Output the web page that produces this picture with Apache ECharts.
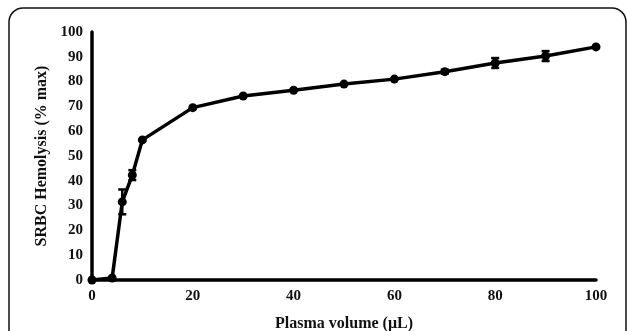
<!DOCTYPE html>
<html>
<head>
<meta charset="utf-8">
<script src="https://cdn.jsdelivr.net/npm/echarts@6/dist/echarts.min.js"></script>
<style>html,body{margin:0;padding:0;background:#fff}#c{width:627px;height:331px}</style>
</head>
<body>
<div id="c"></div>
<script>
var volumes = [0, 4, 6, 8, 10, 20, 30, 40, 50, 60, 70, 80, 90, 100];
var hemolysis = [0, 0.8, 31.5, 42.3, 56.5, 69.5, 74.2, 76.5, 79, 81, 84, 87.5, 90.3, 94];
var errors = [0, 0, 5, 2, 0, 0, 0, 0, 0, 0, 0.8, 2, 2, 0];
var yTicks = [0, 10, 20, 30, 40, 50, 60, 70, 80, 90, 100];
var xTicks = [0, 20, 40, 60, 80, 100];

var font = '"Liberation Serif", "Times New Roman", serif';
var lineData = volumes.map(function (v, i) { return [v, hemolysis[i]]; });
var errData = volumes.map(function (v, i) { return [v, hemolysis[i] - errors[i], hemolysis[i] + errors[i]]; })
  .filter(function (d) { return d[2] - d[1] > 0; });

var chart = echarts.init(document.getElementById('c'));
chart.setOption({
  animation: false,
  backgroundColor: '#fff',
  graphic: [{
    type: 'rect',
    shape: { x: 9, y: 8, width: 617, height: 420, r: 14 },
    style: { fill: 'none', stroke: '#111', lineWidth: 1.5 },
    silent: true
  }],
  grid: { left: 92, right: 31, top: 32, bottom: 51, containLabel: false, outerBoundsMode: 'none' },
  xAxis: {
    type: 'value', min: xTicks[0], max: xTicks[xTicks.length - 1], interval: 20,
    name: 'Plasma volume (\u03bcL)', nameLocation: 'middle', nameGap: 36,
    nameTextStyle: { fontFamily: font, fontWeight: 'bold', fontSize: 16, color: '#111' },
    axisLine: { lineStyle: { color: '#000', width: 3.5 } },
    axisTick: { show: false },
    splitLine: { show: false },
    axisLabel: { fontFamily: font, fontWeight: 'bold', fontSize: 15, color: '#111', margin: 9 }
  },
  yAxis: {
    type: 'value', min: yTicks[0], max: yTicks[yTicks.length - 1], interval: 10,
    name: 'SRBC Hemolysis (% max)', nameLocation: 'middle', nameGap: 42,
    nameTextStyle: { fontFamily: font, fontWeight: 'bold', fontSize: 16, color: '#111' },
    axisLine: { show: true, lineStyle: { color: '#000', width: 3.5 } },
    axisTick: { show: false },
    splitLine: { show: false },
    axisLabel: { fontFamily: font, fontWeight: 'bold', fontSize: 15, color: '#111', margin: 9 }
  },
  series: [{
    type: 'line',
    data: lineData,
    symbol: 'circle',
    symbolSize: 9,
    lineStyle: { color: '#000', width: 3.5 },
    itemStyle: { color: '#000' },
    z: 3
  }, {
    type: 'custom',
    data: errData,
    z: 4,
    renderItem: function (params, api) {
      var x = api.value(0);
      var lo = api.coord([x, api.value(1)]);
      var hi = api.coord([x, api.value(2)]);
      var w = 4;
      var st = { stroke: '#000', lineWidth: 2.5 };
      return {
        type: 'group',
        children: [
          { type: 'line', shape: { x1: lo[0], y1: lo[1], x2: hi[0], y2: hi[1] }, style: st },
          { type: 'line', shape: { x1: lo[0] - w, y1: lo[1], x2: lo[0] + w, y2: lo[1] }, style: st },
          { type: 'line', shape: { x1: hi[0] - w, y1: hi[1], x2: hi[0] + w, y2: hi[1] }, style: st }
        ]
      };
    }
  }]
});
</script>
</body>
</html>
